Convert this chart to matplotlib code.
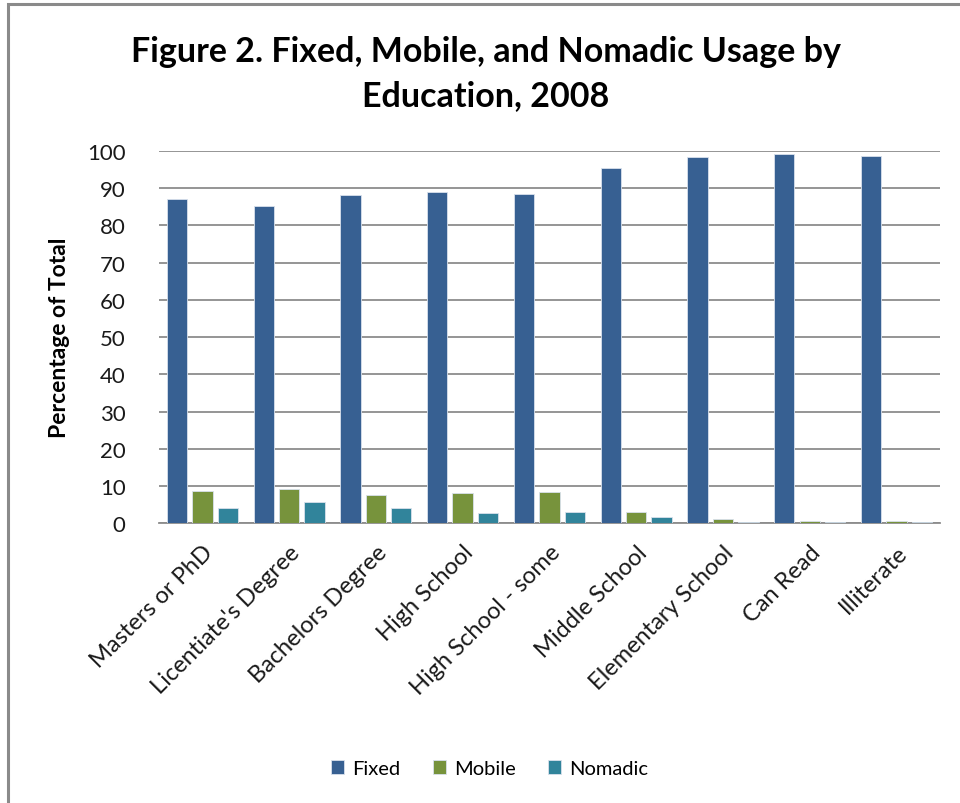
import numpy as np
import matplotlib
matplotlib.use("Agg")
import matplotlib.pyplot as plt
from matplotlib.patches import Rectangle

plt.rcParams['font.family'] = ['Lato', 'DejaVu Sans']

# data
categories = ["Masters or PhD", "Licentiate's Degree", "Bachelors Degree", "High School",
              "High School - some", "Middle School", "Elementary School", "Can Read", "Illiterate"]
fixed = [87.0, 85.3, 88.1, 89.1, 88.5, 95.3, 98.5, 99.1, 98.7]
mobile = [8.7, 9.3, 7.6, 8.0, 8.3, 3.1, 1.1, 0.7, 0.7]
nomadic = [4.2, 5.6, 4.2, 2.8, 3.1, 1.8, 0.4, 0.4, 0.4]
series_names = ["Fixed", "Mobile", "Nomadic"]
colors = ["#376092", "#77933C", "#31849B"]

fig = plt.figure(figsize=(9.6, 8.04), dpi=100)
ax = fig.add_axes([0.1656, 0.348, 0.8134, 0.463])

x = np.arange(len(categories))
w = 0.235
step = 0.293
for k, (vals, name, c) in enumerate(zip([fixed, mobile, nomadic], series_names, colors)):
    ax.bar(x + (k - 1) * step, vals, width=w, color=c, edgecolor="#d9e1ec",
           linewidth=0.6, label=name, zorder=3)

ax.set_xlim(-0.5, len(categories) - 0.5)
ax.set_ylim(0, 100)
ax.set_yticks(np.arange(0, 101, 10))
ax.yaxis.grid(True, color="#8c8c8c", linewidth=1.3, zorder=0)
ax.set_axisbelow(True)
for s in ["top", "right", "left"]:
    ax.spines[s].set_visible(False)
ax.spines["bottom"].set_color("#8c8c8c")
ax.spines["bottom"].set_linewidth(1.3)
ax.tick_params(axis="y", length=0, pad=24, labelsize=16, colors="#1a1a1a")
ax.tick_params(axis="x", length=0, pad=13, labelsize=17, colors="#1a1a1a")
ax.set_xticks(x)
ax.set_xticklabels(categories, rotation=45, ha="right", rotation_mode="anchor")
ax.set_ylabel("Percentage of Total", fontsize=16.5, fontweight="bold", labelpad=12)

fig.text(0.506, 0.935, "Figure 2. Fixed, Mobile, and Nomadic Usage by", ha="center",
         va="center", fontsize=24.5, fontweight="bold")
fig.text(0.506, 0.881, "Education, 2008", ha="center", va="center",
         fontsize=24.5, fontweight="bold")

leg = fig.legend(loc="center", bbox_to_anchor=(0.51, 0.043), ncol=3, frameon=False,
                 fontsize=14.5, handlelength=0.65, handleheight=0.65, columnspacing=1.6,
                 handletextpad=0.4)

# outer chart frame (left and top edges visible)
fig.patches.append(Rectangle((8 / 960, -0.1), 1.2, 1.1 - 5 / 804, transform=fig.transFigure,
                             fill=False, edgecolor="#8a8a8a", linewidth=2.2))

fig.savefig("out.png", dpi=100)
